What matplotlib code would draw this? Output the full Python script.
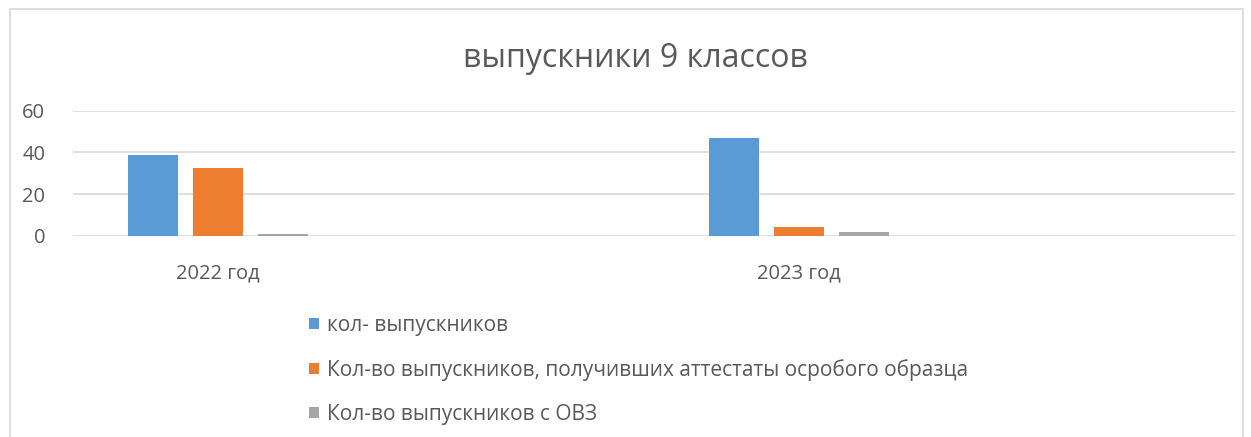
import matplotlib.pyplot as plt
from matplotlib.patches import Rectangle, Patch
import numpy as np

categories = ["2022 год", "2023 год"]
series_names = [
    "кол- выпускников",
    "Кол-во выпускников, получивших аттестаты осробого образца",
    "Кол-во выпускников с ОВЗ",
]
values = [
    [39, 47],
    [32.5, 4.3],
    [0.8, 2],
]
colors = ["#5B9BD5", "#ED7D31", "#A5A5A5"]
yticks = [0, 20, 40, 60]

plt.rcParams["font.family"] = ["Open Sans", "DejaVu Sans"]
text_color = "#595959"

fig = plt.figure(figsize=(12.51, 4.37), dpi=100)
ax = fig.add_axes([0.0584, 0.46, 0.9286, 0.2867])

x = np.arange(len(categories))
width = 0.086
step = 0.112
for i, (name, vals, col) in enumerate(zip(series_names, values, colors)):
    ax.bar(x + (i - 1) * step, vals, width, color=col, label=name, zorder=3)

ax.set_xlim(-0.25, 1.75)
ax.set_ylim(0, 60)
ax.set_yticks(yticks)
ax.set_xticks(x)
ax.set_xticklabels(categories)
ax.yaxis.grid(True, color="#D9D9D9", linewidth=1.2, zorder=0)
for s in ax.spines.values():
    s.set_visible(False)
ax.tick_params(axis="both", length=0, colors=text_color, labelsize=14.5)
ax.tick_params(axis="x", pad=20)
ax.tick_params(axis="y", pad=20)

fig.text(0.508, 0.865, "выпускники 9 классов", ha="center", va="center",
         fontsize=23, color=text_color)

handles = [Patch(facecolor=c) for c in colors]
fig.legend(handles, series_names, loc="upper left",
           bbox_to_anchor=(0.2405, 0.298), frameon=False, fontsize=15,
           labelcolor=text_color, handlelength=0.45, handleheight=0.45,
           handletextpad=0.4, labelspacing=1.1, borderaxespad=0)

fig.patches.append(Rectangle((0.008, -0.05), 0.986, 1.03, transform=fig.transFigure,
                             fill=False, edgecolor="#D9D9D9", linewidth=1.2))

fig.savefig("out.png", dpi=100)
